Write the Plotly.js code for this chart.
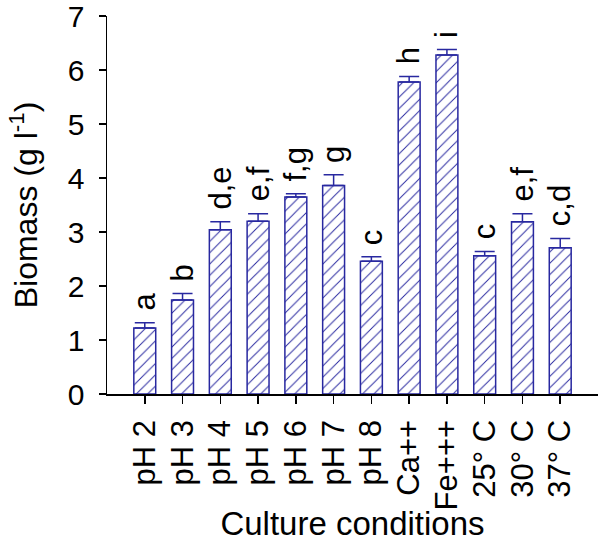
<!DOCTYPE html>
<html>
<head>
<meta charset="utf-8">
<script src="https://cdn.plot.ly/plotly-3.0.1.min.js"></script>
<style>
  html, body { margin: 0; padding: 0; background: #fff; }
  #chart { width: 600px; height: 542px; }
</style>
</head>
<body>
<div id="chart"></div>
<script>
// biomass under each culture condition
let condiciones = ['pH 2', 'pH 3', 'pH 4', 'pH 5', 'pH 6', 'pH 7', 'pH 8', 'Ca++', 'Fe+++', '25\u00b0 C', '30\u00b0 C', '37\u00b0 C'];
let biomasa = [1.22, 1.74, 3.04, 3.20, 3.65, 3.86, 2.46, 5.78, 6.28, 2.56, 3.19, 2.71];
let error = [0.10, 0.12, 0.15, 0.14, 0.06, 0.20, 0.08, 0.10, 0.10, 0.08, 0.15, 0.17];
let letras = ['a', 'b', 'd,e', 'e,f', 'f,g', 'g', 'c', 'h', 'i', 'c', 'e,f', 'c,d'];

let azul = 'rgb(40,40,160)';
let fuente = 'Liberation Sans, Arial, sans-serif';

let barras = {
    x: condiciones,
    y: biomasa,
    type: 'bar',
    width: 0.58,
    marker: {
        color: 'white',
        line: {color: azul, width: 1.5},
        pattern: {shape: '/', fgcolor: azul, bgcolor: 'white', size: 8, solidity: 0.12}
    },
    error_y: {type: 'data', symmetric: false, array: error, arrayminus: error.map(() => 0),
              color: azul, thickness: 1.5, width: 10}
};

let etiquetas = condiciones.map((c, i) => ({
    x: c, y: biomasa[i] + error[i], text: letras[i],
    textangle: -90, showarrow: false, yanchor: 'bottom', yshift: 10,
    font: {family: fuente, size: 31, color: 'black'}
}));

let layout = {
    width: 600, height: 542,
    margin: {l: 107, r: 2, t: 16, b: 148},
    paper_bgcolor: 'white', plot_bgcolor: 'white',
    showlegend: false,
    font: {family: fuente, color: 'black'},
    xaxis: {
        type: 'category', range: [-1, 12],
        showline: true, linecolor: 'black', linewidth: 1.5,
        ticks: 'outside', ticklen: 8, tickwidth: 1.5, tickcolor: 'black',
        tickangle: -90, tickfont: {size: 31}, ticklabelstandoff: 4,
        showgrid: false, zeroline: false,
        title: {text: 'Culture conditions', font: {size: 33}, standoff: 0}
    },
    yaxis: {
        range: [0, 7], dtick: 1,
        showline: true, linecolor: 'black', linewidth: 1.5,
        ticks: 'outside', ticklen: 7, tickwidth: 1.5, tickcolor: 'black',
        tickfont: {size: 30}, ticklabelstandoff: 8, ticklabeloverflow: 'allow',
        showgrid: false, zeroline: false,
        title: {text: 'Biomass (g l<sup>-1</sup>)', font: {size: 32}, standoff: 20}
    },
    annotations: etiquetas
};

Plotly.newPlot('chart', [barras], layout, {staticPlot: true});
</script>
</body>
</html>
